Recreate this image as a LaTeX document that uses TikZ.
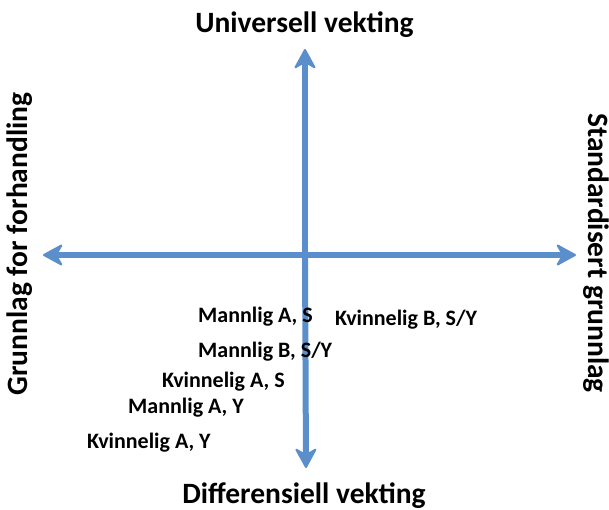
\documentclass[tikz,border=0pt]{standalone}
\usepackage{fontspec}
\setmainfont{Carlito}
\usepackage{xcolor}
\usetikzlibrary{arrows.meta}
\definecolor{axisblue}{HTML}{5B8FCB}

\begin{document}
\begin{tikzpicture}[x=1pt,y=-1pt,
  axis/.style={axisblue, line width=6pt,
    -{Stealth[length=22pt,width=24pt,inset=7pt,round,line width=2pt]}},
  big/.style={font=\fontsize{29.5}{32}\bfseries, inner sep=0pt, anchor=base},
  lab/.style={font=\fontsize{22}{24}\bfseries, inner sep=0pt, anchor=base west}]
  \useasboundingbox (0,0) rectangle (609,510);
  \coordinate (O) at (305,255);
  \coordinate (N) at (305,49);
  \coordinate (S) at (306,468);
  \coordinate (W) at (43,255);
  \coordinate (E) at (576,255);
  \draw[axis] (O) -- (N);
  \draw[axis] (O) -- (S);
  \draw[axis] (O) -- (W);
  \draw[axis] (O) -- (E);
  \node[big] (top) at (304.5,33) {Universell vekting};
  \node[big] (bottom) at (304,503) {Differensiell vekting};
  \node[big, rotate=90] (left) at (27,244) {Grunnlag for forhandling};
  \node[big, rotate=-90] (right) at (588,253) {Standardisert grunnlag};
  \node[lab] (mas) at (198,322) {Mannlig A, S};
  \node[lab] (kbsy) at (335,325) {Kvinnelig B, S/Y};
  \node[lab] (mbsy) at (198,357) {Mannlig B, S/Y};
  \node[lab] (kas) at (162,387) {Kvinnelig A, S};
  \node[lab] (may) at (128,413) {Mannlig A, Y};
  \node[lab] (kay) at (87,448) {Kvinnelig A, Y};
\end{tikzpicture}
\end{document}
